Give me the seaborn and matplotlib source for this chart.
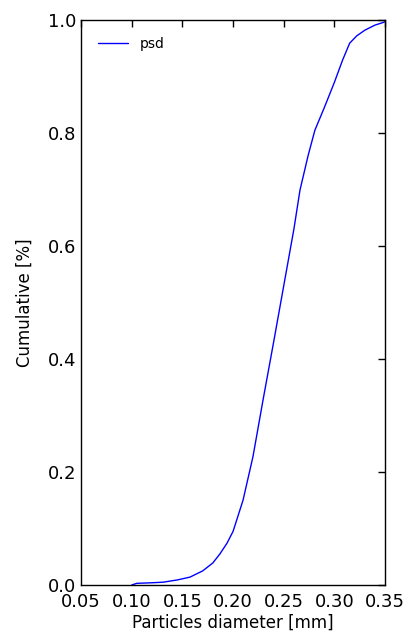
import matplotlib
matplotlib.use("Agg")
import matplotlib.pyplot as plt
import seaborn as sns
import pandas as pd

diameter = [0.100, 0.105, 0.120, 0.131, 0.145, 0.1575, 0.170, 0.180, 0.187, 0.194,
            0.200, 0.2098, 0.2196, 0.2295, 0.240, 0.250, 0.260, 0.266, 0.274,
            0.2807, 0.290, 0.300, 0.308, 0.315, 0.322, 0.330, 0.340, 0.347, 0.350]
cumulative = [0.000, 0.003, 0.004, 0.005, 0.009, 0.014, 0.025, 0.039, 0.055, 0.074,
              0.095, 0.150, 0.227, 0.327, 0.430, 0.530, 0.630, 0.699, 0.760,
              0.805, 0.845, 0.890, 0.929, 0.959, 0.972, 0.982, 0.991, 0.995, 0.997]

df = pd.DataFrame({"d": diameter, "c": cumulative, "s": ["psd"] * len(diameter)})

sns.set_style("white")
plt.rcParams.update({
    "font.family": ["DejaVu Sans"],
    "xtick.direction": "in", "ytick.direction": "in",
    "xtick.top": True, "ytick.right": True,
    "xtick.major.size": 5, "ytick.major.size": 5,
    "axes.edgecolor": "black", "axes.linewidth": 1.0,
    "text.color": "black", "axes.labelcolor": "black",
})

fig = plt.figure(figsize=(4.05, 6.37), dpi=100)
ax = fig.add_axes([0.2, 0.0816, 0.751, 0.887])
sns.lineplot(data=df, x="d", y="c", hue="s", palette=["#0000ff"], linewidth=1.0, ax=ax, sort=False)
ax.set_xlim(0.05, 0.35)
ax.set_ylim(0.0, 1.0)
ax.set_xticks([0.05, 0.10, 0.15, 0.20, 0.25, 0.30, 0.35])
ax.set_yticks([0.0, 0.2, 0.4, 0.6, 0.8, 1.0])
ax.tick_params(axis="both", labelsize=13, colors="black", width=1)
ax.tick_params(axis="x", pad=6)
ax.set_xlabel("Particles diameter [mm]", fontsize=12, labelpad=2)
ax.set_ylabel("Cumulative [%]", fontsize=12, labelpad=10)
ax.legend(loc="upper left", frameon=False, fontsize=10, handlelength=2.2,
          borderaxespad=0.8)
fig.savefig("out.png", dpi=100)
